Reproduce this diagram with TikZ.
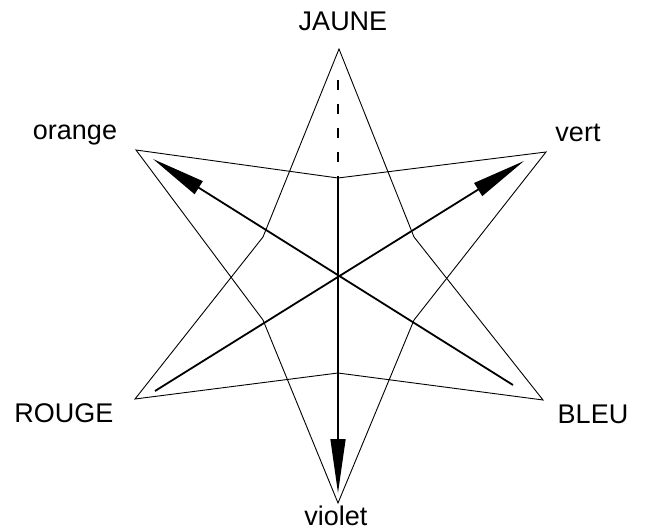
\documentclass[tikz,border=0pt]{standalone}
\usepackage{fontspec}
\setmainfont{Liberation Sans}
\usetikzlibrary{arrows.meta}
\begin{document}
\begin{tikzpicture}[x=1pt,y=-1pt,
  edge/.style={line width=0.9pt,black},
  bigarrow/.style={line width=1.8pt,-{Triangle[length=54pt,width=15pt]}},
  lbl/.style={anchor=base,font=\fontsize{27}{31}\selectfont,inner sep=0pt}]
\useasboundingbox (0,0) rectangle (646,532);
% tips
\coordinate (J) at (339,49);
\coordinate (O) at (136,150);
\coordinate (V) at (546,152);
\coordinate (R) at (135,399);
\coordinate (B) at (543,400);
\coordinate (Vi) at (338,503);
\coordinate (C) at (338,276);
% kinks
\coordinate (kT) at (338,178);
\coordinate (kB) at (338,373);
\coordinate (kLU) at (263,237);
\coordinate (kLD) at (263,320);
\coordinate (kRU) at (414,237);
\coordinate (kRD) at (414,320);
% triangle JAUNE-ROUGE-BLEU
\draw[edge] (J) -- (kLU) -- (R) -- (kB) -- (B) -- (kRU) -- cycle;
% triangle orange-vert-violet
\draw[edge] (O) -- (kT) -- (V) -- (kRD) -- (Vi) -- (kLD) -- cycle;
% arrows
\coordinate (rs) at (155,391);
\coordinate (bs) at (513,385);
\coordinate (ot) at (153,159);
\coordinate (vt) at (524,161);
\coordinate (js) at (338,80);
\coordinate (jm) at (338,180);
\coordinate (vit) at (338,493);
\draw[bigarrow] (rs) -- (vt);
\draw[bigarrow] (bs) -- (ot);
\draw[line width=1.4pt,dash pattern=on 10pt off 14pt] (js) -- (jm);
\draw[bigarrow,line width=1.5pt] (jm) -- (vit);
% labels
\node[lbl] (lJ) at (343,31) {JAUNE};
\node[lbl] (lO) at (75,140) {orange};
\node[lbl] (lV) at (578,142) {vert};
\node[lbl] (lR) at (64,422) {ROUGE};
\node[lbl] (lB) at (593,423) {BLEU};
\node[lbl] (lVi) at (336,525) {violet};
\end{tikzpicture}
\end{document}
